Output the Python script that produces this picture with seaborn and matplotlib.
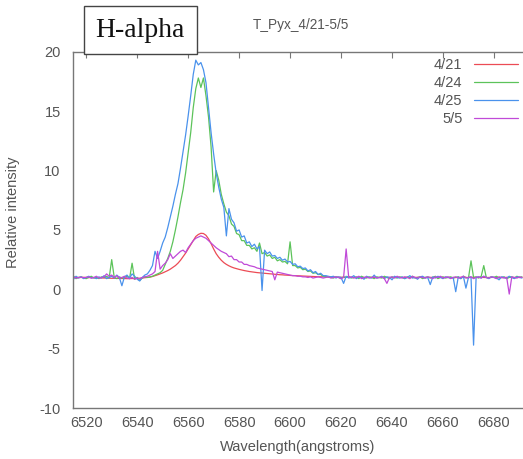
import numpy as np
import pandas as pd
import seaborn as sns
import matplotlib.pyplot as plt

# wavelength grid (1 angstrom steps) and the four spectra
wavelength = np.arange(6514, 6692)

red_0421 = [
    1.00, 1.01, 1.00, 0.99, 1.00, 1.01, 1.00, 0.99, 0.99, 0.98,
    0.98, 0.97, 0.96, 0.95, 0.95, 0.94, 0.93, 0.93, 0.92, 0.92,
    0.91, 0.91, 0.90, 0.90, 0.91, 0.91, 0.92, 0.93, 0.95, 0.98,
    1.00, 1.03, 1.08, 1.15, 1.22, 1.30, 1.38, 1.48, 1.58, 1.70,
    1.85, 2.00, 2.20, 2.45, 2.75, 3.05, 3.40, 3.75, 4.10, 4.45,
    4.62, 4.72, 4.70, 4.55, 4.25, 3.85, 3.40, 3.00, 2.70, 2.45,
    2.25, 2.10, 1.98, 1.88, 1.80, 1.74, 1.68, 1.63, 1.58, 1.54,
    1.50, 1.47, 1.44, 1.41, 1.39, 1.37, 1.35, 1.33, 1.31, 1.29,
    1.27, 1.25, 1.23, 1.22, 1.20, 1.19, 1.17, 1.16, 1.15, 1.14,
    1.13, 1.12, 1.11, 1.10, 1.09, 1.08, 1.07, 1.06, 1.06, 1.05,
    1.05, 1.04, 1.04, 1.03, 1.03, 1.02, 1.02, 1.02, 1.01, 1.01,
    1.01, 1.00, 1.00, 1.01, 1.00, 0.99, 1.00, 1.00, 1.01, 1.00,
    1.00, 0.99, 1.00, 1.01, 1.00, 1.00, 0.99, 1.00, 1.01, 1.00,
    1.00, 1.01, 1.00, 0.99, 1.00, 1.00, 1.01, 1.00, 0.99, 1.00,
    1.00, 1.00, 1.01, 1.00, 0.99, 1.00, 1.00, 1.01, 1.00, 1.00,
    0.99, 1.00, 1.00, 1.01, 1.00, 1.00, 0.99, 1.00, 1.01, 1.00,
    1.00, 1.01, 1.00, 0.99, 1.00, 1.00, 1.01, 1.00, 1.00, 0.99,
    1.00, 1.00, 1.01, 1.00, 0.99, 1.00, 1.00, 1.01,
]

green_0424 = [
    2.10, 1.10, 0.90, 1.00, 1.05, 0.95, 0.90, 1.00, 1.10, 0.95,
    1.00, 0.90, 1.05, 1.00, 1.10, 0.95, 2.50, 1.00, 0.90, 1.05,
    0.95, 1.00, 1.10, 0.90, 2.20, 0.85, 1.00, 0.75, 0.95, 1.05,
    1.00, 1.05, 1.10, 1.20, 1.30, 1.40, 1.60, 2.10, 2.60, 3.20,
    4.00, 5.00, 6.10, 7.30, 8.40, 9.80, 11.5, 13.2, 15.3, 16.9,
    17.8, 17.0, 17.8, 16.3, 14.5, 12.0, 8.20, 10.0, 9.20, 8.00,
    7.20, 6.50, 6.20, 5.50, 5.30, 4.70, 4.60, 4.10, 4.10, 3.70,
    3.70, 3.40, 3.50, 3.20, 3.90, 3.00, 3.10, 2.80, 2.90, 2.60,
    2.70, 2.40, 2.50, 2.30, 2.35, 2.15, 4.00, 2.00, 2.00, 1.80,
    1.85, 1.65, 1.70, 1.50, 1.55, 1.35, 1.40, 1.25, 1.25, 1.10,
    1.10, 1.05, 1.00, 0.95, 1.05, 1.00, 0.90, 1.05, 1.00, 1.10,
    0.95, 1.00, 1.05, 0.90, 1.10, 1.00, 0.95, 1.05, 1.00, 0.90,
    1.05, 1.00, 0.95, 1.10, 1.00, 0.90, 1.05, 1.00, 0.95, 1.05,
    1.00, 0.90, 1.05, 1.00, 1.10, 0.95, 1.00, 1.05, 0.90, 1.00,
    1.05, 0.95, 1.00, 1.10, 0.90, 1.00, 1.05, 0.95, 1.00, 1.05,
    0.95, 1.00, 1.05, 0.90, 1.10, 1.00, 0.95, 2.40, 1.00, 1.05,
    0.95, 1.10, 2.00, 1.00, 0.95, 1.05, 1.00, 1.10, 0.95, 1.00,
    1.05, 0.90, 1.00, 1.05, 0.95, 1.10, 1.00, 1.05,
]

blue_0425 = [
    1.00, 0.85, 1.10, 0.95, 1.05, 0.90, 1.00, 1.10, 0.95, 1.00,
    0.90, 1.05, 0.95, 1.15, 0.90, 1.00, 1.10, 0.95, 1.20, 1.00,
    0.30, 1.05, 1.20, 0.95, 1.30, 1.10, 0.85, 0.70, 1.00, 1.20,
    1.30, 1.60, 2.00, 3.20, 2.60, 3.20, 3.90, 4.40, 5.20, 6.10,
    7.00, 8.00, 8.90, 10.2, 11.6, 13.0, 14.6, 16.3, 18.1, 19.3,
    18.9, 19.1, 18.5, 17.4, 15.3, 13.2, 11.4, 9.80, 8.60, 7.60,
    6.90, 4.50, 6.80, 5.90, 5.60, 4.90, 5.00, 4.40, 4.50, 3.90,
    4.00, 3.60, 3.80, 3.40, 3.60, -0.1, 3.30, 3.00, 3.15, 2.80,
    2.85, 2.60, 2.70, 2.45, 2.55, 2.30, 2.35, 2.10, 2.15, 1.90,
    1.95, 1.75, 1.80, 1.55, 1.65, 1.40, 1.50, 1.25, 1.35, 1.15,
    1.15, 1.10, 1.05, 1.10, 0.95, 1.05, 1.00, 0.50, 1.10, 0.95,
    1.00, 1.15, 0.90, 1.05, 1.00, 0.85, 1.10, 1.00, 0.95, 1.20,
    0.95, 1.00, 1.10, 0.90, 1.05, 1.00, 0.80, 1.10, 1.00, 0.95,
    1.05, 0.90, 1.00, 1.15, 0.95, 1.00, 0.85, 1.05, 1.10, 0.95,
    1.00, 0.40, 1.05, 0.95, 1.10, 1.00, 0.90, 1.05, 1.00, 0.95,
    1.00, -0.2, 1.05, 0.90, 1.10, 0.10, 1.00, 1.05, -4.7, 1.00,
    1.05, 0.95, 1.10, 1.00, 0.90, 1.05, 1.00, 0.95, 0.80, 1.05,
    1.00, 0.95, 1.10, 1.00, 0.90, 1.05, 1.00, 0.95,
]

magenta_0505 = [
    1.00, 1.05, 0.95, 1.00, 1.02, 0.98, 1.00, 1.05, 0.95, 1.00,
    1.10, 0.95, 1.00, 1.05, 1.30, 1.10, 1.20, 1.00, 1.15, 0.95,
    1.00, 1.10, 0.95, 0.90, 1.00, 0.85, 0.95, 0.90, 1.00, 1.05,
    1.10, 1.20, 1.30, 1.50, 3.20, 1.70, 2.00, 2.20, 2.50, 3.00,
    2.60, 2.80, 3.00, 3.20, 3.30, 3.10, 3.50, 3.80, 4.10, 4.30,
    4.40, 4.50, 4.40, 4.30, 4.10, 3.90, 3.70, 3.50, 3.35, 3.20,
    3.10, 3.00, 2.75, 2.80, 2.50, 2.50, 2.30, 2.30, 2.10, 2.10,
    2.00, 1.95, 1.90, 1.80, 1.75, 1.70, 1.65, 1.60, 1.55, 1.50,
    0.80, 1.45, 1.40, 1.35, 1.30, 1.25, 1.20, 1.15, 1.15, 1.10,
    1.10, 1.05, 1.05, 1.00, 1.05, 0.95, 1.00, 1.05, 1.00, 0.95,
    1.00, 1.05, 0.95, 1.00, 1.05, 1.00, 0.90, 1.00, 3.40, 1.00,
    1.05, 0.95, 1.00, 1.10, 0.90, 1.00, 1.05, 0.95, 1.00, 1.05,
    0.95, 1.00, 1.05, 0.90, 0.50, 1.00, 1.05, 0.95, 1.10, 1.00,
    0.95, 1.05, 1.00, 0.90, 1.10, 1.00, 0.95, 1.05, 1.00, 0.95,
    1.05, 1.00, 0.90, 1.05, 1.00, 1.10, 0.95, 1.00, 1.05, 0.90,
    1.00, 1.05, 0.95, 1.00, 1.10, 0.95, 1.00, 1.05, 0.90, 1.00,
    1.05, 0.95, 1.10, 1.00, 0.95, 1.05, 1.00, 0.90, 1.05, 1.00,
    0.95, 1.00, -0.4, 1.05, 1.00, 0.95, 1.05, 1.00,
]

dates = ["4/21", "4/24", "4/25", "5/5"]
colors = ["#ec4b55", "#5cc35a", "#4a92ec", "#c04ad8"]

# long table for seaborn
df = pd.DataFrame({"wavelength": wavelength, "4/21": red_0421, "4/24": green_0424,
                   "4/25": blue_0425, "5/5": magenta_0505})
dflong = pd.melt(df, id_vars="wavelength", var_name="date", value_name="intensity")

sns.set_style("white")
plt.rcParams['font.family'] = ['Liberation Sans', 'DejaVu Sans']
plt.rcParams['axes.unicode_minus'] = False

fig = plt.figure(figsize=(5.23, 4.59), dpi=100)
ax = fig.add_axes([0.140, 0.111, 0.860, 0.776])

sns.lineplot(data=dflong, x="wavelength", y="intensity", hue="date", hue_order=dates,
             palette=colors, linewidth=0.9, ax=ax)

ax.set_xlim(6514.9, 6691.4)
ax.set_ylim(-10, 20)
ax.set_xticks(range(6520, 6681, 20))
ax.set_yticks(range(-10, 21, 5))
ax.tick_params(direction="in", length=4, width=0.8, colors="#777777", labelcolor="#555555",
               labelsize=10.5, top=True, right=False)
ax.tick_params(axis="y", pad=9)
ax.tick_params(axis="x", pad=6)
for s in ["left", "bottom", "top"]:
    ax.spines[s].set_color("#777777")
    ax.spines[s].set_linewidth(1.0)
ax.spines["right"].set_visible(False)

ax.set_xlabel("Wavelength(angstroms)", color="#555555", fontsize=10.5, labelpad=7)
ax.set_ylabel("Relative intensity", color="#555555", fontsize=10.5)
ax.yaxis.set_label_coords(-0.118, 0.55)

sns.move_legend(ax, "upper right", bbox_to_anchor=(1.018, 1.02), frameon=False, title=None,
                markerfirst=False, handlelength=3.0, fontsize=10.5, labelspacing=0.28,
                labelcolor="#555555")

fig.text(0.484, 0.946, "T_Pyx_4/21-5/5", ha="left", va="center", fontsize=9.8, color="#555555")
fig.text(0.268, 0.934, "H-alpha", ha="center", va="center", fontsize=20,
         family=["Liberation Serif", "DejaVu Serif"], color="#111111",
         bbox=dict(boxstyle="square,pad=0.42", fc="white", ec="#444444", lw=1.0))

fig.savefig("out.png", dpi=100)
